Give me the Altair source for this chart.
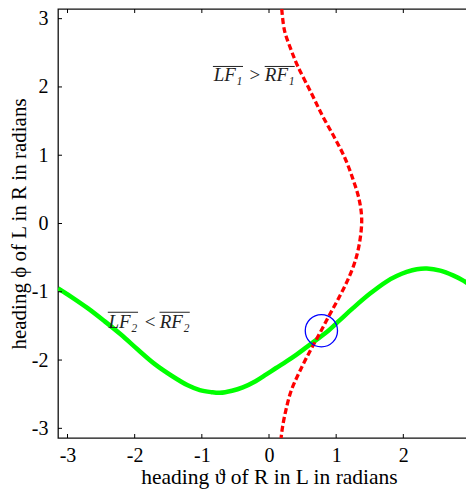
import altair as alt
import pandas as pd
import math

# green curve: LF2 < RF2 boundary (x = theta, y = phi)
green_x = [-3.14, -2.95, -2.70, -2.45, -2.20, -1.95, -1.70, -1.45, -1.21, -1.03,
           -0.86, -0.73, -0.55, -0.39, -0.20, -0.04, 0.10, 0.26, 0.41, 0.56,
           0.71, 0.86, 1.05, 1.25, 1.50, 1.75, 1.90, 2.05, 2.20, 2.35,
           2.55, 2.74, 2.90, 3.04, 3.14]
green_y = [-0.95, -1.07, -1.24, -1.43, -1.63, -1.85, -2.06, -2.23, -2.37, -2.44,
           -2.47, -2.48, -2.45, -2.40, -2.31, -2.21, -2.12, -2.02, -1.92, -1.81,
           -1.70, -1.59, -1.42, -1.24, -1.03, -0.85, -0.77, -0.71, -0.67, -0.66,
           -0.69, -0.76, -0.84, -0.93, -0.98]

# red dashed curve: LF1 > RF1 boundary
red_y = [3.14, 2.83, 2.54, 2.30, 1.91, 1.57, 1.25, 0.96, 0.65, 0.36, 0.07, -0.27,
         -0.56, -0.81, -1.07, -1.34, -1.60, -1.87, -2.16, -2.45, -2.74, -2.99, -3.14]
red_x = [0.19, 0.23, 0.33, 0.43, 0.63, 0.80, 0.98, 1.13, 1.25, 1.34, 1.38, 1.35,
         1.28, 1.18, 1.05, 0.90, 0.76, 0.61, 0.46, 0.33, 0.25, 0.20, 0.18]

# intersection marker
circle_x = [0.78]
circle_y = [-1.57]

# annotation pieces (text, centre x, baseline y)
ann_text = ["LF\u2081", ">", "RF\u2081", "LF\u2082", "<", "RF\u2082"]
ann_style = ["italic", "normal", "italic", "italic", "normal", "italic"]
ann_x = [-0.61, -0.21, 0.16, -2.175, -1.77, -1.405]
ann_y = [2.09, 2.09, 2.09, -1.53, -1.53, -1.53]

# overlines (start x, end x, y)
bar_x1 = [-0.835, -0.064, -2.40, -1.63]
bar_x2 = [-0.387, 0.383, -1.95, -1.18]
bar_y = [2.30, 2.30, -1.30, -1.30]

tick_values = [-3, -2, -1, 0, 1, 2, 3]

W, H = 422, 429
FONT = "Liberation Serif"
PI = math.pi

xs = alt.Scale(domain=[-PI, PI], nice=False, zero=False)
ys = alt.Scale(domain=[-PI, PI], nice=False, zero=False)

green_df = pd.DataFrame({"x": green_x, "y": green_y})
red_df = pd.DataFrame({"x": red_x, "y": red_y, "i": list(range(len(red_x)))})
circ_df = pd.DataFrame({"x": circle_x, "y": circle_y})
ann_df = pd.DataFrame({"x": ann_x, "y": ann_y, "t": ann_text, "s": ann_style})
bar_df = pd.DataFrame({"x1": bar_x1, "x2": bar_x2, "y": bar_y})
tick_df = pd.DataFrame({"v": tick_values})

x_axis = alt.Axis(values=tick_values, title="heading ϑ of R in L in radians",
                  labelExpr="'' + datum.value", ticks=False, grid=False,
                  domain=False, labelFont=FONT, labelFontSize=20,
                  labelColor="black", labelPadding=7, titleFont=FONT,
                  titleFontSize=21.5, titleFontWeight="normal", titleColor="black",
                  titlePadding=1)
y_axis = alt.Axis(values=tick_values, title="heading ϕ of L in R in radians",
                  labelExpr="'' + datum.value", ticks=False, grid=False,
                  domain=False, labelFont=FONT, labelFontSize=20,
                  labelColor="black", labelPadding=10, titleFont=FONT,
                  titleFontSize=21, titleFontWeight="normal", titleColor="black",
                  titlePadding=2)

green = alt.Chart(green_df).mark_line(
    color="#00ff00", strokeWidth=4.5, interpolate="catmull-rom", clip=True
).encode(x=alt.X("x:Q", scale=xs, axis=x_axis), y=alt.Y("y:Q", scale=ys, axis=y_axis))

red = alt.Chart(red_df).mark_line(
    color="#ff0000", strokeWidth=3.3, strokeDash=[6, 3], interpolate="catmull-rom",
    clip=True
).encode(x=alt.X("x:Q", scale=xs), y=alt.Y("y:Q", scale=ys), order="i:Q")

circ = alt.Chart(circ_df).mark_point(
    shape="circle", size=1040, color="#0000ff", strokeWidth=1.3, filled=False, opacity=1
).encode(x=alt.X("x:Q", scale=xs), y=alt.Y("y:Q", scale=ys))

ann_it = alt.Chart(ann_df).transform_filter("datum.s == 'italic'").mark_text(
    font=FONT, fontSize=19, fontStyle="italic", color="#222222",
    align="center", baseline="alphabetic"
).encode(x=alt.X("x:Q", scale=xs), y=alt.Y("y:Q", scale=ys), text="t:N")

ann_up = alt.Chart(ann_df).transform_filter("datum.s == 'normal'").mark_text(
    font=FONT, fontSize=19, color="#222222",
    align="center", baseline="alphabetic"
).encode(x=alt.X("x:Q", scale=xs), y=alt.Y("y:Q", scale=ys), text="t:N")

bars = alt.Chart(bar_df).mark_rule(color="#222222", strokeWidth=1).encode(
    x=alt.X("x1:Q", scale=xs), x2="x2:Q", y=alt.Y("y:Q", scale=ys))

tk = 4
bottom_ticks = alt.Chart(tick_df).mark_rule(color="black", strokeWidth=1).encode(
    x=alt.X("v:Q", scale=xs), y=alt.value(H), y2=alt.value(H - tk))
top_ticks = alt.Chart(tick_df).mark_rule(color="black", strokeWidth=1).encode(
    x=alt.X("v:Q", scale=xs), y=alt.value(0), y2=alt.value(tk))
left_ticks = alt.Chart(tick_df).mark_rule(color="black", strokeWidth=1).encode(
    y=alt.Y("v:Q", scale=ys), x=alt.value(0), x2=alt.value(tk))
right_ticks = alt.Chart(tick_df).mark_rule(color="black", strokeWidth=1).encode(
    y=alt.Y("v:Q", scale=ys), x=alt.value(W), x2=alt.value(W - tk))

chart = alt.layer(
    green, red, circ, ann_it, ann_up, bars,
    bottom_ticks, top_ticks, left_ticks, right_ticks
).properties(
    width=W, height=H,
    autosize=alt.AutoSizeParams(type="none"),
    padding={"left": 50, "top": 1, "right": -14, "bottom": 52},
    background="white",
).configure_view(stroke="#111111", strokeWidth=1.3)

chart.save("out.html", embed_options={"renderer": "svg", "actions": False})
